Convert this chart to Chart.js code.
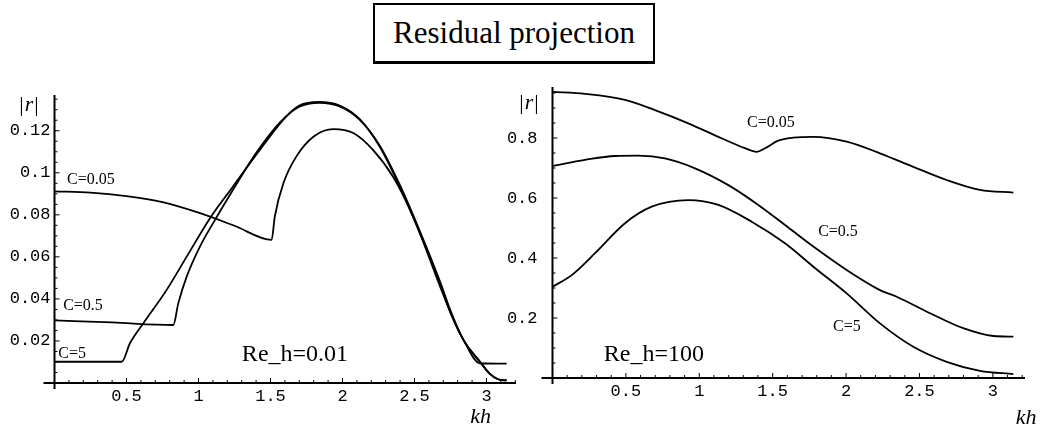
<!DOCTYPE html>
<html>
<head>
<meta charset="utf-8">
<script src="https://cdn.jsdelivr.net/npm/chart.js@4.4.0/dist/chart.umd.min.js"></script>
<style>
  body { margin: 0; background: #fff; width: 1042px; height: 431px; position: relative; overflow: hidden; }
  canvas { position: absolute; top: 0; }
  #title {
    position: absolute; left: 373px; top: 3px; width: 278px; height: 56px;
    border: 2px solid #000; border-bottom-width: 3px;
    font: 31px "Liberation Serif", serif; text-align: center; line-height: 56px; color: #000;
  }
</style>
</head>
<body>
<div id="title">Residual projection</div>
<canvas id="left" width="521" height="431" style="left:0"></canvas>
<canvas id="right" width="542" height="431" style="left:500px"></canvas>
<script>
"use strict"

// Re_h = 0.01  (left panel)
const khLowC005 = [0, 0.25, 0.5, 0.75, 1.0, 1.25, 1.508, 1.53, 1.59, 1.68, 1.80, 1.936, 2.075, 2.21, 2.35, 2.49, 2.68, 2.75, 2.84, 2.955, 3.02, 3.08, 3.14];
const rLowC005  = [0.0912, 0.0906, 0.0889, 0.0860, 0.0810, 0.0748, 0.0681, 0.0792, 0.0951, 0.1078, 0.1173, 0.1208, 0.1189, 0.1110, 0.0982, 0.0792, 0.0455, 0.0335, 0.0205, 0.0101, 0.0046, 0.0018, 0.0012];

const khLowC05 = [0, 0.4, 0.825, 0.86, 0.918, 1.01, 1.115, 1.24, 1.40, 1.566, 1.70, 1.84, 1.98, 2.12, 2.26, 2.40, 2.54, 2.68, 2.75, 2.84, 2.955, 3.02, 3.08, 3.14];
const rLowC05  = [0.0298, 0.0288, 0.0276, 0.0380, 0.0506, 0.0649, 0.0776, 0.0919, 0.1094, 0.1240, 0.1314, 0.1333, 0.1316, 0.1252, 0.1128, 0.0940, 0.0718, 0.0478, 0.0345, 0.0205, 0.0101, 0.0046, 0.0018, 0.0012];

const khLowC5 = [0, 0.467, 0.524, 0.617, 0.779, 0.918, 1.08, 1.24, 1.427, 1.61, 1.70, 1.84, 1.98, 2.12, 2.26, 2.40, 2.54, 2.68, 2.75, 2.84, 2.955, 3.14];
const rLowC5  = [0.0101, 0.0101, 0.0189, 0.0284, 0.0443, 0.0601, 0.0784, 0.0935, 0.1110, 0.1268, 0.1320, 0.1337, 0.1320, 0.1255, 0.1122, 0.0930, 0.0708, 0.0470, 0.0335, 0.0205, 0.0094, 0.0092];

// Re_h = 100  (right panel)
const khHighC005 = [0, 0.221, 0.494, 0.698, 0.925, 1.152, 1.311, 1.391, 1.448, 1.538, 1.64, 1.777, 2.004, 2.231, 2.458, 2.685, 2.912, 3.14];
const rHighC005  = [0.954, 0.947, 0.927, 0.893, 0.849, 0.799, 0.766, 0.754, 0.766, 0.791, 0.801, 0.804, 0.788, 0.749, 0.704, 0.660, 0.627, 0.618];

const khHighC05 = [0, 0.221, 0.426, 0.585, 0.766, 0.971, 1.198, 1.402, 1.584, 1.777, 2.004, 2.231, 2.345, 2.572, 2.798, 3.003, 3.14];
const rHighC05  = [0.707, 0.727, 0.740, 0.741, 0.732, 0.699, 0.643, 0.577, 0.510, 0.438, 0.360, 0.293, 0.271, 0.216, 0.166, 0.140, 0.138];

const khHighC5 = [0, 0.131, 0.29, 0.494, 0.676, 0.925, 1.13, 1.357, 1.584, 1.777, 2.004, 2.231, 2.458, 2.685, 2.912, 3.14];
const rHighC5  = [0.304, 0.343, 0.416, 0.516, 0.571, 0.593, 0.577, 0.521, 0.449, 0.371, 0.282, 0.182, 0.104, 0.054, 0.024, 0.013];

// tick labels
const xTicks = [0.5, 1, 1.5, 2, 2.5, 3];
const yTicksLow = [0.02, 0.04, 0.06, 0.08, 0.1, 0.12];
const yTicksHigh = [0.2, 0.4, 0.6, 0.8];

const tickFont = { family: '"Liberation Mono", monospace', size: 17 };

// draws Mathematica-like axes crossing at the origin, minor ticks and the text notes
function mathAxes(c) {
    return {
        id: 'mathAxes',
        afterDraw(chart) {
            const { ctx, scales: { x, y } } = chart;
            const x0 = x.getPixelForValue(0), y0 = y.getPixelForValue(0);
            ctx.save();
            ctx.strokeStyle = '#000';
            ctx.lineWidth = 2;
            ctx.beginPath();
            ctx.moveTo(x0 - 11, y0); ctx.lineTo(x.right, y0);
            ctx.moveTo(x0, y0 + 6); ctx.lineTo(x0, y.top);
            ctx.stroke();

            ctx.lineWidth = 1;
            ctx.beginPath();
            for (let i = 1; i * c.xMinor < c.xMax; i++) {
                const px = x.getPixelForValue(i * c.xMinor);
                const len = i % 5 === 0 ? 5 : 3;
                ctx.moveTo(px, y0); ctx.lineTo(px, y0 - len);
            }
            for (let i = 1; i * c.yMinor < c.yMax; i++) {
                const py = y.getPixelForValue(i * c.yMinor);
                const len = i % 4 === 0 ? 5 : 3;
                ctx.moveTo(x0, py); ctx.lineTo(x0 + len, py);
            }
            ctx.stroke();

            ctx.fillStyle = '#000';
            ctx.textAlign = 'center';
            ctx.textBaseline = 'middle';
            c.notes.forEach(n => {
                ctx.font = n.font;
                ctx.fillText(n.text, x.getPixelForValue(n.x), y.getPixelForValue(n.y));
            });

            // |r| label: upright bars, italic r
            const lx = x.getPixelForValue(c.rLabel[0]), ly = y.getPixelForValue(c.rLabel[1]);
            ctx.font = '22px "Liberation Serif", serif';
            const bw = ctx.measureText('|').width;
            ctx.font = 'italic 22px "Liberation Serif", serif';
            const rw = ctx.measureText('r').width + 2;
            const start = lx - (2 * bw + rw) / 2;
            ctx.textAlign = 'left';
            ctx.fillText('r', start + bw + 1, ly);
            ctx.font = '22px "Liberation Serif", serif';
            ctx.fillText('|', start, ly);
            ctx.fillText('|', start + bw + rw, ly);
            ctx.restore();
        }
    };
}

function makeChart(id, c) {
    return new Chart(document.getElementById(id), {
        type: 'line',
        data: {
            datasets: c.series.map(s => ({
                data: s.kh.map((v, i) => ({ x: v, y: s.r[i] })),
                borderColor: '#000',
                borderWidth: 1.8,
                pointRadius: 0,
                fill: false,
                cubicInterpolationMode: 'monotone'
            }))
        },
        options: {
            responsive: false,
            animation: false,
            devicePixelRatio: 1,
            layout: { padding: c.padding },
            plugins: { legend: { display: false }, tooltip: { enabled: false } },
            scales: {
                x: {
                    type: 'linear', min: 0, max: c.xMax,
                    grid: { display: false, drawTicks: false },
                    border: { display: false },
                    afterBuildTicks: s => { s.ticks = xTicks.map(v => ({ value: v })); },
                    afterFit: s => { s.height = c.xHeight; },
                    ticks: { font: tickFont, color: '#000', padding: 3, autoSkip: false, maxRotation: 0, callback: v => String(v) }
                },
                y: {
                    type: 'linear', min: 0, max: c.yMax,
                    grid: { display: false, drawTicks: false },
                    border: { display: false },
                    afterBuildTicks: s => { s.ticks = c.yTicks.map(v => ({ value: v })); },
                    afterFit: s => { s.width = c.yWidth; },
                    ticks: { font: tickFont, color: '#000', padding: c.yPad, autoSkip: false, callback: v => String(v) }
                }
            }
        },
        plugins: [mathAxes(c)]
    });
}

const labelFont = '16px "Liberation Serif", serif';
const reFont = '24px "Liberation Serif", serif';
const khFont = 'italic 22px "Liberation Serif", serif';

makeChart('left', {
    series: [
        { kh: khLowC005, r: rLowC005 },
        { kh: khLowC05, r: rLowC05 },
        { kh: khLowC5, r: rLowC5 }
    ],
    xMax: 3.205, yMax: 0.137,
    yTicks: yTicksLow,
    xMinor: 0.1, yMinor: 0.005,
    padding: { top: 95, right: 5, left: 0, bottom: 0 },
    xHeight: 48, yWidth: 54.5, yPad: 4,
    rLabel: [-0.177, 0.132],
    notes: [
        { text: 'C=0.05', x: 0.253, y: 0.0967, font: labelFont },
        { text: 'C=0.5', x: 0.198, y: 0.0367, font: labelFont },
        { text: 'C=5', x: 0.122, y: 0.0140, font: labelFont },
        { text: 'Re_h=0.01', x: 1.67, y: 0.0133, font: reFont },
        { text: 'kh', x: 2.96, y: -0.0162, font: khFont }
    ]
});

makeChart('right', {
    series: [
        { kh: khHighC005, r: rHighC005 },
        { kh: khHighC05, r: rHighC05 },
        { kh: khHighC5, r: rHighC5 }
    ],
    xMax: 3.219, yMax: 0.97,
    yTicks: yTicksHigh,
    xMinor: 0.1, yMinor: 0.05,
    padding: { top: 87, right: 17, left: 0, bottom: 0 },
    xHeight: 53, yWidth: 52.5, yPad: 15,
    rLabel: [-0.16, 0.917],
    notes: [
        { text: 'C=0.05', x: 1.488, y: 0.85, font: labelFont },
        { text: 'C=0.5', x: 1.945, y: 0.487, font: labelFont },
        { text: 'C=5', x: 2.006, y: 0.17, font: labelFont },
        { text: 'Re_h=100', x: 0.691, y: 0.077, font: reFont },
        { text: 'kh', x: 3.226, y: -0.133, font: khFont }
    ]
});
</script>
</body>
</html>
